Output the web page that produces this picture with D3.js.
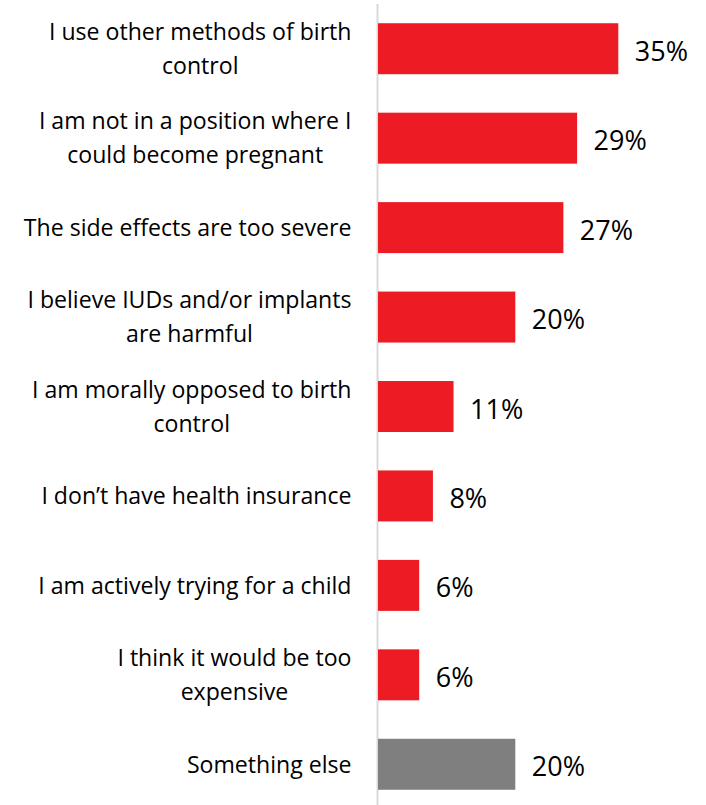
<!DOCTYPE html>
<html>
<head>
<meta charset="utf-8">
<script src="https://cdn.jsdelivr.net/npm/d3@7"></script>
<style>
  html, body { margin: 0; padding: 0; background: #fff; }
  svg { display: block; }
</style>
</head>
<body>
<svg id="chart" width="706" height="805"></svg>
<script>
// Reasons given, one entry per bar (line breaks mark where each label wraps)
const categories = [
  ["I use other methods of birth", "control"],
  ["I am not in a position where I", "could become pregnant"],
  ["The side effects are too severe"],
  ["I believe IUDs and/or implants", "are harmful"],
  ["I am morally opposed to birth", "control"],
  ["I don\u2019t have health insurance"],
  ["I am actively trying for a child"],
  ["I think it would be too", "expensive"],
  ["Something else"]
];
const values = [35, 29, 27, 20, 11, 8, 6, 6, 20];
const valueLabels = ["35%", "29%", "27%", "20%", "11%", "8%", "6%", "6%", "20%"];
const highlight = [false, false, false, false, false, false, false, false, true];

const W = 706, H = 805;
const x0 = 378;
const svg = d3.select("#chart");

const rows = categories.map((c, i) => ({ lines: c, value: values[i], label: valueLabels[i], other: highlight[i], key: i }));

const x = d3.scaleLinear().domain([0, 35]).range([x0, 618.3]);
const y = d3.scaleBand().domain(rows.map(d => d.key)).range([4, 809]).paddingInner(0.43).paddingOuter(0.215);

const font = "'Open Sans', Lato, sans-serif";

// vertical axis line
svg.append("line")
  .attr("x1", 377.5).attr("x2", 377.5)
  .attr("y1", 4).attr("y2", H)
  .attr("stroke", "#d9d9d9").attr("stroke-width", 2);

// bars
svg.selectAll("rect.bar").data(rows).join("rect")
  .attr("class", "bar")
  .attr("x", x(0))
  .attr("y", d => y(d.key))
  .attr("width", d => x(d.value) - x(0))
  .attr("height", y.bandwidth())
  .attr("fill", d => d.other ? "#7f7f7f" : "#ed1c24");

// value labels
svg.selectAll("text.val").data(rows).join("text")
  .attr("class", "val")
  .attr("x", d => x(d.value) + 16.5)
  .attr("y", d => y(d.key) + y.bandwidth() / 2 + 12)
  .attr("font-family", font)
  .attr("font-size", 27)
  .attr("fill", "#000")
  .text(d => d.label);

// category labels: lines centred within a block whose right edge sits at 351
const labelRight = 351.5;
const lineGap = 34;
const capHalf = 8.3;
const g = svg.append("g");
rows.forEach(d => {
  const cy = y(d.key) + y.bandwidth() / 2;
  const t = g.append("text")
    .attr("font-family", font)
    .attr("font-size", 23.1)
    .attr("fill", "#000")
    .attr("text-anchor", "middle");
  const spans = d.lines.map((ln, j) => t.append("tspan")
    .attr("y", cy + (j - (d.lines.length - 1) / 2) * lineGap + capHalf)
    .text(ln));
  const widths = spans.map(s => s.node().getComputedTextLength());
  const blockW = d3.max(widths);
  spans.forEach(s => s.attr("x", labelRight - blockW / 2));
});
</script>
</body>
</html>
